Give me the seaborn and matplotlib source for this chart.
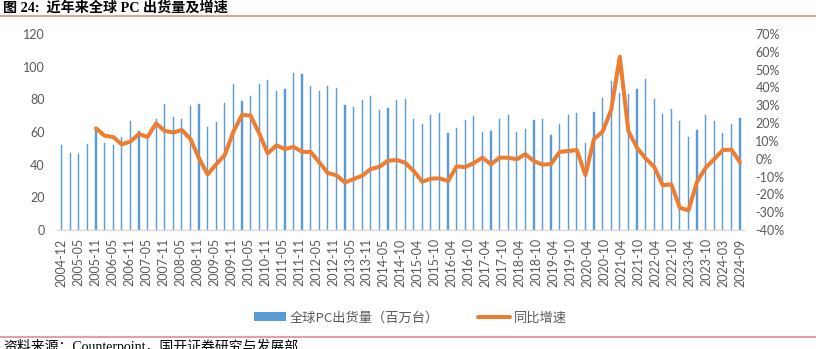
import numpy as np
import pandas as pd
import matplotlib
matplotlib.use("Agg")
import matplotlib.pyplot as plt
from matplotlib.patches import Patch
from matplotlib.lines import Line2D
from matplotlib.ticker import PercentFormatter
import seaborn as sns

# Quarterly global PC shipments (million units), 2004Q4 - 2024Q3
shipments = [
    52.0, 47.1, 46.3, 52.9, 61.8, 53.1, 52.0, 56.8, 66.7, 60.6,
    59.0, 68.0, 77.1, 69.2, 68.2, 76.1, 77.1, 63.1, 66.1, 77.7,
    89.4, 78.8, 82.2, 89.4, 91.8, 85.1, 86.5, 95.9, 95.5, 88.4,
    85.1, 88.1, 86.9, 76.5, 75.3, 79.6, 82.0, 73.3, 74.7, 79.4,
    80.2, 68.1, 64.9, 70.4, 71.6, 59.6, 62.4, 67.1, 69.8, 60.2,
    60.4, 67.7, 70.4, 60.0, 61.8, 67.1, 67.7, 58.2, 64.7, 70.2,
    71.4, 53.1, 72.0, 80.8, 91.2, 83.7, 83.3, 86.3, 92.4, 80.2,
    71.0, 73.9, 66.7, 56.7, 61.2, 70.4, 66.7, 59.6, 64.7, 68.6,
]

# Year-over-year growth (%), available from 2005Q4
yoy_growth = [
    np.nan, np.nan, np.nan, np.nan, 17.1, 12.9, 12.2, 8.1, 9.6, 13.9,
    12.2, 19.9, 15.6, 14.8, 16.1, 11.1, 0.2, -8.8, -3.1, 2.1,
    15.2, 24.6, 24.2, 14.3, 3.0, 7.5, 5.4, 6.7, 3.9, 3.8,
    -2.0, -8.0, -9.3, -13.3, -11.4, -9.5, -5.8, -4.5, -1.1, -0.7,
    -2.2, -6.9, -12.9, -11.2, -11.0, -12.5, -4.3, -4.7, -2.4, 0.6,
    -3.1, 0.6, 0.6, -0.3, 2.6, -1.3, -3.3, -3.0, 3.9, 4.3,
    4.9, -9.2, 11.1, 15.2, 27.4, 57.3, 15.6, 6.2, 0.2, -4.5,
    -14.8, -14.4, -27.5, -29.0, -12.9, -5.1, -0.2, 4.9, 5.1, -2.0,
]

tick_labels = [
    "2004-12", "2005-05", "2005-11", "2006-05", "2006-11", "2007-05",
    "2007-11", "2008-05", "2008-11", "2009-05", "2009-11", "2010-05",
    "2010-11", "2011-05", "2011-11", "2012-05", "2012-11", "2013-05",
    "2013-11", "2014-05", "2014-10", "2015-04", "2015-10", "2016-04",
    "2016-10", "2017-04", "2017-10", "2018-04", "2018-10", "2019-04",
    "2019-10", "2020-04", "2020-10", "2021-04", "2021-10", "2022-04",
    "2022-10", "2023-04", "2023-10", "2024-03", "2024-09",
]

bar_label = "全球PC出货量（百万台）"
line_label = "同比增速"
title = "图 24:  近年来全球 PC 出货量及增速"
source = "资料来源：Counterpoint，国开证券研究与发展部"

BLUE = "#5B9BD5"
ORANGE = "#ED7D31"
GREY = "#595959"
RULE = "#E3A0A0"

sns.set_style("white")
plt.rcParams["font.family"] = ["Lato", "Noto Sans CJK SC", "DejaVu Sans"]
plt.rcParams["axes.unicode_minus"] = False

df = pd.DataFrame({
    "q": np.arange(len(shipments)),
    "shipments": shipments,
    "growth": yoy_growth,
})

fig = plt.figure(figsize=(8.16, 3.49), dpi=100)
ax = fig.add_axes([0.0703, 0.341, 0.8418, 0.5614])

# thin bars; a fine same-coloured edge keeps every bar visible at this size
sns.barplot(data=df, x="q", y="shipments", ax=ax, color=BLUE,
            saturation=1, width=0.14, edgecolor=BLUE, linewidth=0.3)
ax.set_xlim(-0.5, len(shipments) - 0.5)
ax.set_ylim(0, 120)
ax.set_yticks(range(0, 121, 20))
ax.set_xlabel("")
ax.set_ylabel("")

ax2 = ax.twinx()
sns.lineplot(data=df.dropna(), x="q", y="growth", ax=ax2, color=ORANGE,
             linewidth=2.9, solid_joinstyle="round", solid_capstyle="round")
ax2.set_ylim(-40, 70)
ax2.set_yticks(range(-40, 71, 10))
ax2.yaxis.set_major_formatter(PercentFormatter(100, decimals=0))
ax2.set_ylabel("")
ax2.set_xlabel("")

ax.set_xticks(np.linspace(0, len(shipments) - 1, len(tick_labels)))
ax.set_xticklabels(tick_labels, rotation=90, fontsize=9, color=GREY)
ax.set_xlim(-0.5, len(shipments) - 0.5)

for a in (ax, ax2):
    for s in a.spines.values():
        s.set_visible(False)
ax.spines["bottom"].set_visible(True)
ax.spines["bottom"].set_color("#D9D9D9")
ax.spines["bottom"].set_linewidth(1.0)

ax.tick_params(axis="x", length=4, color="#D9D9D9", pad=2)
ax.tick_params(axis="y", length=0, labelsize=9, labelcolor=GREY, pad=9)
ax2.tick_params(axis="y", length=0, labelsize=9, labelcolor=GREY, pad=8)
ax.grid(False)
ax2.grid(False)

handles = [Patch(facecolor=BLUE, edgecolor="none"),
           Line2D([0], [0], color=ORANGE, linewidth=2.9)]
fig.legend(handles, [bar_label, line_label], loc="center",
           bbox_to_anchor=(0.503, 0.089), ncol=2, frameon=False,
           labelcolor=GREY, handlelength=2.4,
           handletextpad=0.3, columnspacing=3.0,
           prop={"family": ["Noto Sans CJK SC"], "size": 9.5})

fig.text(0.004, 0.978, title, fontsize=10.2, fontweight="bold",
         family=["Liberation Serif", "Noto Sans CJK SC"], va="center",
         ha="left", color="black")
fig.add_artist(Line2D([0, 1], [1 - 16 / 349, 1 - 16 / 349],
                      transform=fig.transFigure, color=RULE, linewidth=1.5))
fig.add_artist(Line2D([0, 1], [1 - 337 / 349, 1 - 337 / 349],
                      transform=fig.transFigure, color=RULE, linewidth=1.5))
fig.text(0.004, 1 - 339 / 349, source, fontsize=10,
         family=["Liberation Serif", "Noto Sans CJK SC"], va="top",
         ha="left", color="black")

fig.savefig("out.png", dpi=100)
